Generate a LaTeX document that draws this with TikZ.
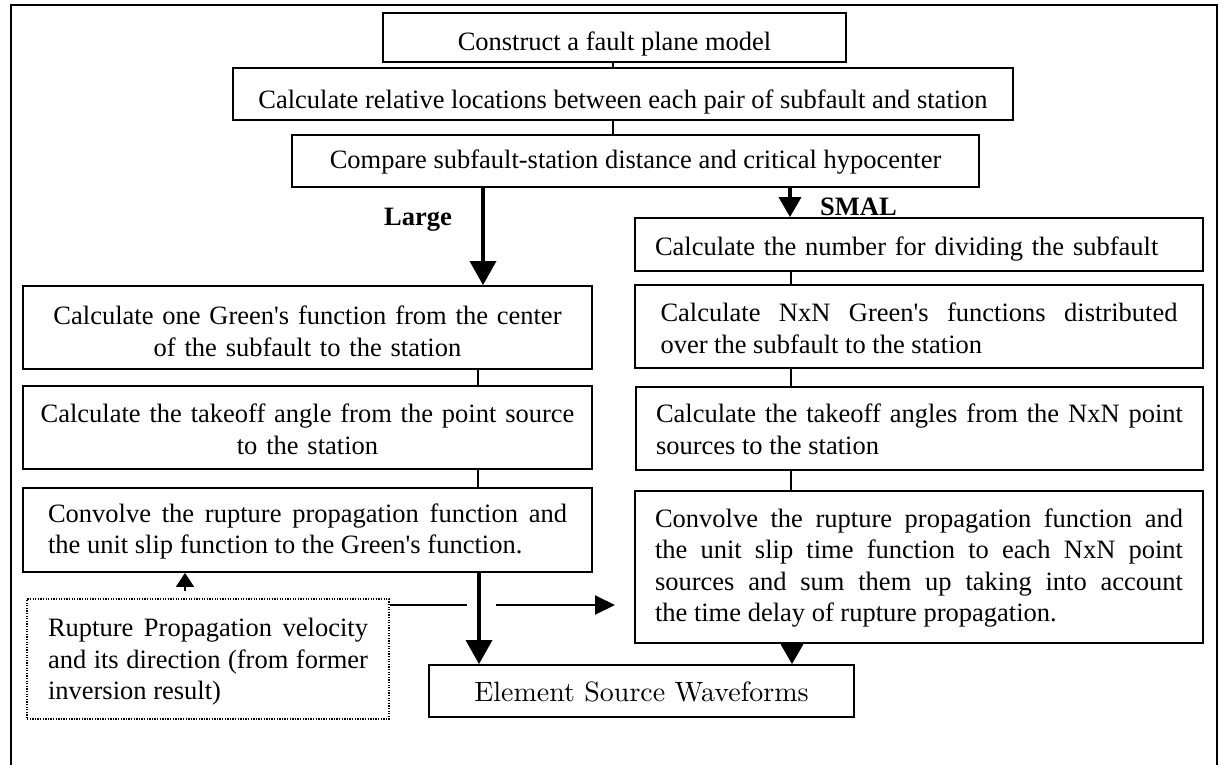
\documentclass[tikz,border=0pt]{standalone}
\usepackage{fontspec}
\setmainfont{Liberation Serif}
\newfontfamily\lmfam{lmroman10-regular.otf}
\usetikzlibrary{arrows.meta}
\newcommand\fs{\fontsize{26.5}{31.5}\selectfont\tolerance=10000\hyphenpenalty=10000\relax}
\newcommand\lmf{\lmfam\fontsize{28}{33}\selectfont}
\newcommand\rl[1]{\rule{0pt}{#1pt}}
\newcommand\sq{\XeTeXglyph\XeTeXcharglyph"0027\relax}
\begin{document}
\begin{tikzpicture}[x=1pt,y=-1pt,
  box/.style={draw, line width=1.8pt, inner sep=0pt, font=\fs, align=center},
  jbox/.style={box, align=justify},
  lbox/.style={box, align=left},
  dotbox/.style={jbox, dash pattern=on 1.3pt off 1.3pt, line width=1.4pt},
  conn/.style={line width=2.8pt},
  bigarrow/.style={line width=3.5pt, -{Triangle[length=24pt,width=26pt]}},
  midarrow/.style={line width=3.5pt, -{Triangle[length=20pt,width=22pt]}},
  smallarrow/.style={line width=1.6pt, -{Triangle[length=14pt,width=18pt]}},
  hline/.style={line width=2pt},
  harrow/.style={line width=2pt, -{Triangle[length=20pt,width=19pt]}},
  tag/.style={font=\fs\bfseries, inner sep=0pt}
]
\useasboundingbox (0,0) rectangle (1226,765);
\draw[line width=2.2pt] (11,770) -- (11,5) -- (1217,5) -- (1217,770);

\node[box, minimum width=463pt, minimum height=49pt] (b1) at (614.5,37.5) {\rl{30.8}Construct a fault plane model};
\node[box, minimum width=780pt, minimum height=52pt] (b2) at (623,94) {\rl{33.8}Calculate relative locations between each pair of subfault and station};
\node[box, minimum width=687pt, minimum height=52pt] (b3) at (635.5,161) {\rl{19.8}Compare subfault-station distance and critical hypocenter};

\node[tag, anchor=base] (large) at (418,225) {Large};
\node[tag, anchor=base west] (smal) at (820,215) {SMAL};

\node[lbox, text width=528pt, minimum width=568pt, minimum height=53pt] (R1) at (919,244.5) {\rl{27.8}Calculate the number for dividing the subfault};
\node[jbox, text width=517pt, minimum width=568pt, minimum height=83pt] (R2) at (919,326.5) {\rl{22.5}Calculate NxN Green\sq s functions distributed\linebreak over the subfault to the station};
\node[jbox, text width=527pt, minimum width=567pt, minimum height=83pt] (R3) at (919.5,428.5) {\rl{20.5}Calculate the takeoff angles from the NxN point\linebreak sources to the station};
\node[jbox, text width=528pt, minimum width=568pt, minimum height=152pt] (R4) at (919,567) {\rl{20.3}Convolve the rupture propagation function and\linebreak the unit slip time function to each NxN point\linebreak sources and sum them up taking into account\linebreak the time delay of rupture propagation.};

\node[box, text width=545pt, minimum width=569pt, minimum height=83pt] (L1) at (307.5,327.5) {\rl{26.5}Calculate one Green\sq s function from the center\\ of the subfault to the station};
\node[box, text width=545pt, minimum width=569pt, minimum height=83pt] (L2) at (307.5,427.5) {\rl{22.5}Calculate the takeoff angle from the point source\\ to the station};
\node[jbox, text width=519pt, minimum width=569pt, minimum height=84pt] (L3) at (307.5,530) {\rl{21.3}Convolve the rupture propagation function and\linebreak the unit slip function to the Green\sq s function.};

\node[box, font=\lmf, minimum width=425pt, minimum height=52pt] (E) at (641.5,691) {\rl{22}Element Source Waveforms};
\node[dotbox, text width=320pt, minimum width=362pt, minimum height=120pt] (D) at (208,659) {\rl{24.5}Rupture Propagation velocity\linebreak and its direction (from former\linebreak inversion result)};

\coordinate (x1) at (613,0);
\coordinate (xl) at (483,0);
\coordinate (xr) at (790,0);
\coordinate (xl2) at (478,0);
\coordinate (xl3) at (479,0);
\coordinate (xr2) at (791,0);
\coordinate (xr3) at (792,0);
\coordinate (xd) at (185,0);
\coordinate (h1) at (467,605);
\coordinate (h2) at (496,605);
\coordinate (h3) at (615,605);

\draw[conn] (b1.south -| x1) -- (b2.north -| x1);
\draw[conn] (b2.south -| x1) -- (b3.north -| x1);
\draw[bigarrow] (b3.south -| xl) -- (L1.north -| xl);
\draw[midarrow] (b3.south -| xr) -- (R1.north -| xr);
\draw[conn] (L1.south -| xl2) -- (L2.north -| xl2);
\draw[conn] (L2.south -| xl2) -- (L3.north -| xl2);
\draw[bigarrow] (L3.south -| xl3) -- (E.north -| xl3);
\draw[conn] (R1.south -| xr2) -- (R2.north -| xr2);
\draw[conn] (R2.south -| xr2) -- (R3.north -| xr2);
\draw[conn] (R3.south -| xr2) -- (R4.north -| xr2);
\draw[midarrow] (R4.south -| xr3) -- (E.north -| xr3);
\draw[smallarrow, shorten <=7pt] (D.north -| xd) -- (L3.south -| xd);
\draw[hline] (D.east |- h1) -- (h1);
\draw[harrow] (h2) -- (h3);
\end{tikzpicture}
\end{document}
